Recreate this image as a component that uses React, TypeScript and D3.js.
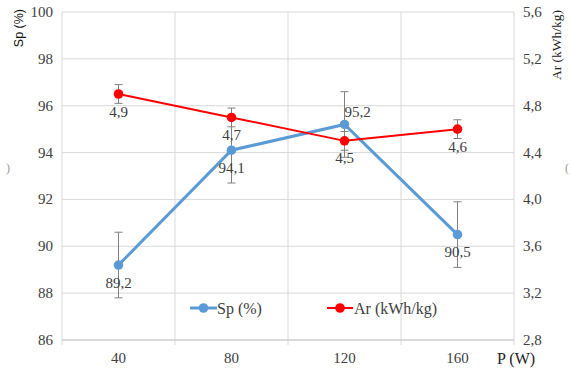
import React from "react";
import * as d3 from "d3";

const categories = ["40", "80", "120", "160"];
const spValues = [89.2, 94.1, 95.2, 90.5];
const spErrors = [1.4, 1.4, 1.4, 1.4];
const arValues = [4.9, 4.7, 4.5, 4.6];
const arErrors = [0.08, 0.08, 0.08, 0.08];
const spTicks = [86, 88, 90, 92, 94, 96, 98, 100];
const arTicks = [2.8, 3.2, 3.6, 4.0, 4.4, 4.8, 5.2, 5.6];

const W = 572;
const H = 372;
const margin = { top: 12, right: 58, bottom: 32, left: 62 };

const BLUE = "#5b9bd5";
const RED = "#ff0000";
const GRID = "#d9d9d9";
const ERR = "#808080";
const TXT = "#404040";
const serif = "Liberation Serif, DejaVu Serif, Times New Roman, serif";

const fmt = (v: number) => v.toFixed(1).replace(".", ",");

const App = () => {
  const x0 = margin.left;
  const x1 = W - margin.right;
  const y0 = margin.top;
  const y1 = H - margin.bottom;

  const x = d3.scaleBand().domain(categories).range([x0, x1]).padding(0);
  const ySp = d3.scaleLinear().domain([86, 100]).range([y1, y0]);
  const yAr = d3.scaleLinear().domain([2.8, 5.6]).range([y1, y0]);
  const cx = (c: string) => (x(c) as number) + x.bandwidth() / 2;

  const spLine = d3
    .line<number>()
    .x((_, i) => cx(categories[i]))
    .y((d) => ySp(d));
  const arLine = d3
    .line<number>()
    .x((_, i) => cx(categories[i]))
    .y((d) => yAr(d));

  const bounds = [...categories.map((c) => x(c) as number), x1];

  const errBar = (xc: number, yTop: number, yBot: number, key: string) => (
    <g key={key} stroke={ERR} strokeWidth={1}>
      <line x1={xc} x2={xc} y1={yTop} y2={yBot} />
      <line x1={xc - 4} x2={xc + 4} y1={yTop} y2={yTop} />
      <line x1={xc - 4} x2={xc + 4} y1={yBot} y2={yBot} />
    </g>
  );

  const serifText = { fontFamily: serif };

  return (
    <svg
      width={W}
      height={H}
      style={{ position: "absolute", left: 0, top: 0, background: "#fff" }}
    >
      <rect width={W} height={H} fill="#fff" />
      {/* grid */}
      {spTicks.map((t) => (
        <line key={"h" + t} x1={x0} x2={x1} y1={ySp(t)} y2={ySp(t)} stroke={GRID} />
      ))}
      {bounds.map((b, i) => (
        <line key={"v" + i} x1={b} x2={b} y1={y0} y2={y1 + 5} stroke={GRID} />
      ))}
      <line x1={x0} x2={x1} y1={y1} y2={y1} stroke="#c8c8c8" />

      {/* left axis labels */}
      {spTicks.map((t) => (
        <text
          key={"ls" + t}
          x={53}
          y={ySp(t)}
          textAnchor="end"
          dominantBaseline="central"
          style={serifText}
          fontSize={15}
          fill={TXT}
        >
          {t}
        </text>
      ))}
      {/* right axis labels */}
      {arTicks.map((t) => (
        <text
          key={"ra" + t}
          x={523}
          y={yAr(t)}
          dominantBaseline="central"
          style={serifText}
          fontSize={15}
          fill={TXT}
        >
          {fmt(t)}
        </text>
      ))}
      {/* x labels */}
      {categories.map((c) => (
        <text
          key={"x" + c}
          x={cx(c)}
          y={y1 + 18}
          textAnchor="middle"
          dominantBaseline="central"
          style={serifText}
          fontSize={15}
          fill={TXT}
        >
          {c}
        </text>
      ))}

      {/* axis titles */}
      <text
        transform={`translate(23,9) rotate(-90)`}
        textAnchor="end"
        style={{ fontFamily: "Liberation Sans, Arial, sans-serif" }}
        fontSize={12.5}
        fill="#111"
      >
        Sp (%)
      </text>
      <text
        transform={`translate(561,${y0 - 2}) rotate(-90)`}
        textAnchor="end"
        style={serifText}
        fontSize={13.5}
        fill="#222"
      >
        Ar (kWh/kg)
      </text>
      <text x={497} y={364} style={serifText} fontSize={16} fill="#222">
        P (W)
      </text>
      <text x={6} y={172} style={serifText} fontSize={12} fill="#999">
        )
      </text>
      <text x={565} y={172} style={serifText} fontSize={12} fill="#999">
        (
      </text>

      {/* Sp series */}
      {spValues.map((v, i) =>
        errBar(cx(categories[i]), ySp(v + spErrors[i]), ySp(v - spErrors[i]), "es" + i)
      )}
      <path d={spLine(spValues) ?? ""} fill="none" stroke={BLUE} strokeWidth={3} />
      {spValues.map((v, i) => (
        <circle key={"cs" + i} cx={cx(categories[i])} cy={ySp(v)} r={4.8} fill={BLUE} />
      ))}

      {/* Ar series */}
      {arValues.map((v, i) =>
        errBar(cx(categories[i]), yAr(v + arErrors[i]), yAr(v - arErrors[i]), "ea" + i)
      )}
      <path d={arLine(arValues) ?? ""} fill="none" stroke={RED} strokeWidth={2} />
      {arValues.map((v, i) => (
        <circle key={"ca" + i} cx={cx(categories[i])} cy={yAr(v)} r={4.8} fill={RED} />
      ))}

      {/* data labels */}
      {spValues.map((v, i) => {
        const above = i === 2;
        return (
          <text
            key={"ls" + i}
            x={cx(categories[i]) + (above ? 13 : 0)}
            y={ySp(v) + (above ? -12 : 17.5)}
            textAnchor="middle"
            dominantBaseline="central"
            style={serifText}
            fontSize={15}
            fill={TXT}
          >
            {fmt(v)}
          </text>
        );
      })}
      {arValues.map((v, i) => (
        <text
          key={"la" + i}
          x={cx(categories[i])}
          y={yAr(v) + 17.5}
          textAnchor="middle"
          dominantBaseline="central"
          style={serifText}
          fontSize={15}
          fill={TXT}
        >
          {fmt(v)}
        </text>
      ))}

      {/* legend */}
      <g>
        <line x1={190} x2={217} y1={308} y2={308} stroke={BLUE} strokeWidth={3} />
        <circle cx={203.5} cy={308} r={4.8} fill={BLUE} />
        <text x={217} y={308} dominantBaseline="central" style={serifText} fontSize={16} fill={TXT}>
          Sp (%)
        </text>
        <line x1={327} x2={353} y1={308} y2={308} stroke={RED} strokeWidth={2} />
        <circle cx={340} cy={308} r={4.8} fill={RED} />
        <text x={354} y={308} dominantBaseline="central" style={serifText} fontSize={16} fill={TXT}>
          Ar (kWh/kg)
        </text>
      </g>
    </svg>
  );
};

export default App;
